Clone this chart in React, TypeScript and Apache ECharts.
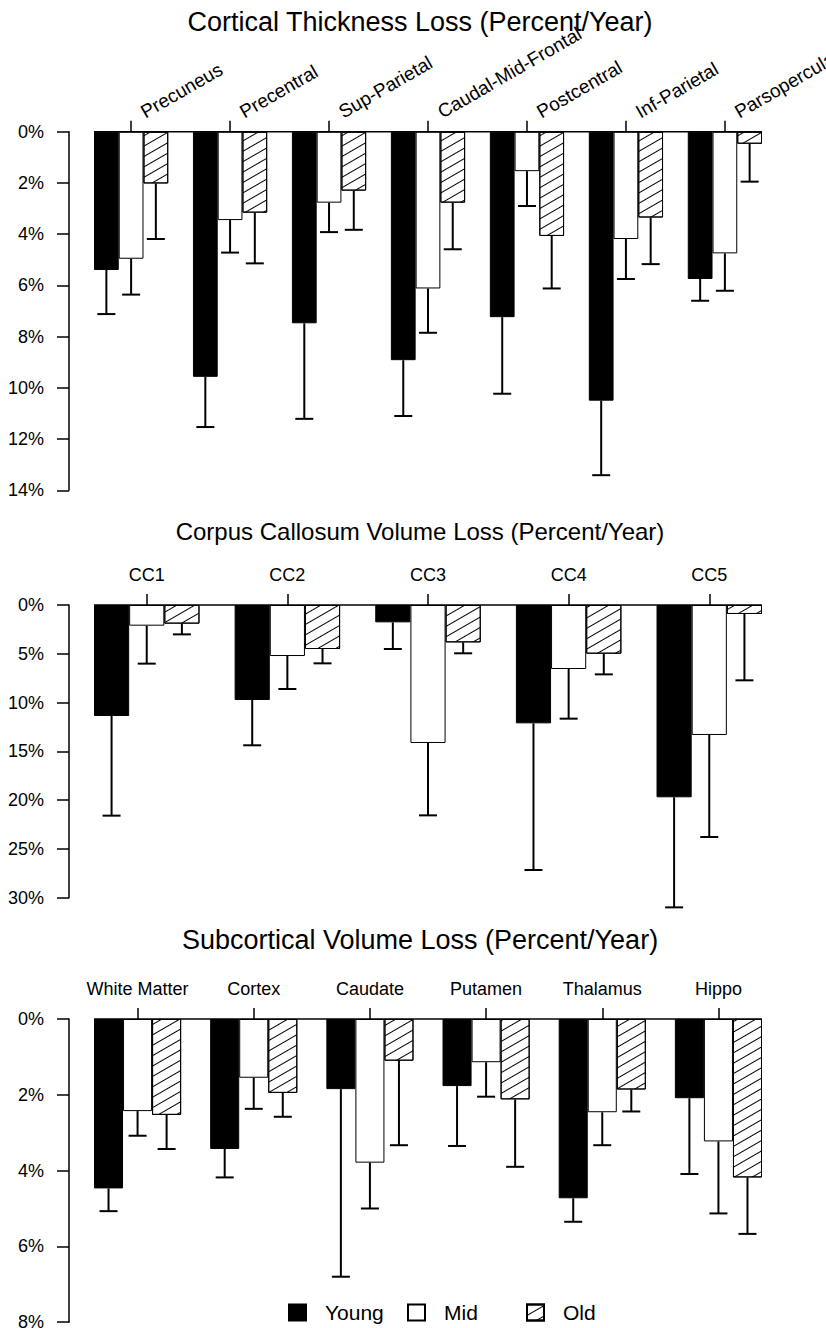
import React, { useEffect, useRef } from "react";
import * as echarts from "echarts";

// ---------- DATA ----------
const corticalCats = ["Precuneus", "Precentral", "Sup-Parietal", "Caudal-Mid-Frontal", "Postcentral", "Inf-Parietal", "Parsopercularis"];
const corticalYoung = [5.40, 9.57, 7.48, 8.92, 7.24, 10.50, 5.75];
const corticalYoungErr = [7.12, 11.53, 11.21, 11.10, 10.23, 13.41, 6.60];
const corticalMid = [4.96, 3.45, 2.77, 6.12, 1.54, 4.19, 4.75];
const corticalMidErr = [6.36, 4.72, 3.92, 7.85, 2.90, 5.75, 6.21];
const corticalOld = [2.02, 3.16, 2.30, 2.77, 4.07, 3.35, 0.47];
const corticalOldErr = [4.19, 5.14, 3.83, 4.59, 6.12, 5.17, 1.95];

const ccCats = ["CC1", "CC2", "CC3", "CC4", "CC5"];
const ccYoung = [11.38, 9.74, 1.78, 12.13, 19.71];
const ccYoungErr = [21.59, 14.38, 4.51, 27.16, 30.99];
const ccMid = [2.12, 5.23, 14.14, 6.56, 13.32];
const ccMidErr = [6.01, 8.61, 21.56, 11.65, 23.78];
const ccOld = [1.91, 4.51, 3.83, 4.99, 0.92];
const ccOldErr = [3.01, 5.98, 4.95, 7.11, 7.72];

const subCats = ["White Matter", "Cortex", "Caudate", "Putamen", "Thalamus", "Hippo"];
const subYoung = [4.47, 3.43, 1.85, 1.77, 4.73, 2.09];
const subYoungErr = [5.07, 4.18, 6.80, 3.35, 5.35, 4.09];
const subMid = [2.43, 1.55, 3.79, 1.14, 2.46, 3.23];
const subMidErr = [3.08, 2.37, 5.00, 2.05, 3.33, 5.13];
const subOld = [2.53, 1.95, 1.10, 2.12, 1.86, 4.18];
const subOldErr = [3.43, 2.58, 3.33, 3.90, 2.44, 5.67];

const titles = [
  "Cortical Thickness Loss (Percent/Year)",
  "Corpus Callosum Volume Loss (Percent/Year)",
  "Subcortical Volume Loss (Percent/Year)",
];
const yMax = [14, 30, 8];
const yInterval = [2, 5, 2];
const groupNames = ["Young", "Mid", "Old"];

const FONT = "'Liberation Sans', Arial, Helvetica, sans-serif";

const panels = [
  { cats: corticalCats, vals: [corticalYoung, corticalMid, corticalOld], errs: [corticalYoungErr, corticalMidErr, corticalOldErr] },
  { cats: ccCats, vals: [ccYoung, ccMid, ccOld], errs: [ccYoungErr, ccMidErr, ccOldErr] },
  { cats: subCats, vals: [subYoung, subMid, subOld], errs: [subYoungErr, subMidErr, subOldErr] },
];

// layout
const BAR_LEFT = 94;
const BAR_RIGHT = 762;
const Y_AXIS_X = 69;
const gridTops = [131.7, 605, 1019];
const gridHeights = [358.6, 292.7, 303.2];
const titleTops = [7, 516, 925];
const titleSizes = [27, 24, 27];

const hatch = {
  symbol: "rect",
  symbolSize: 1,
  color: "#000",
  dashArrayX: [1, 0],
  dashArrayY: [1, 8],
  rotation: -Math.PI / 6,
};

function buildOption() {
  const grids: any[] = [];
  const xAxes: any[] = [];
  const yAxes: any[] = [];
  const series: any[] = [];
  const titleArr: any[] = [];

  panels.forEach((p, pi) => {
    const n = p.cats.length;
    const units = n * 4 - 1;
    const unit = (BAR_RIGHT - BAR_LEFT) / units;
    const gLeft = BAR_LEFT - unit / 2;
    const gRight = 826 - (BAR_RIGHT + unit / 2);
    grids.push({
      left: gLeft,
      right: gRight,
      top: gridTops[pi],
      height: gridHeights[pi],
      containLabel: false,
      outerBoundsMode: "none",
    });

    titleArr.push({
      text: titles[pi],
      left: 420,
      top: titleTops[pi],
      textAlign: "center",
      padding: 0,
      textStyle: { fontSize: titleSizes[pi], fontWeight: "normal", color: "#000", fontFamily: FONT, lineHeight: 30 },
    });

    const rotated = pi === 0;
    xAxes.push({
      gridIndex: pi,
      type: "category",
      data: p.cats,
      position: "top",
      boundaryGap: true,
      axisLine: { show: false },
      axisTick: { show: true, alignWithLabel: true, length: 11, lineStyle: { color: "#000", width: 1.5 } },
      axisLabel: rotated
        ? { rotate: 30, margin: 12, padding: [0, 0, 0, 13], color: "#000", fontSize: 19, fontFamily: FONT, interval: 0, hideOverlap: false }
        : { margin: 20, color: "#000", fontSize: 18, fontFamily: FONT, interval: 0, lineHeight: 20 },
      splitLine: { show: false },
    });

    yAxes.push({
      gridIndex: pi,
      type: "value",
      inverse: true,
      min: 0,
      max: yMax[pi],
      interval: yInterval[pi],
      position: "left",
      offset: gLeft - Y_AXIS_X,
      axisLine: { show: true, lineStyle: { color: "#000", width: 1.5 } },
      axisTick: { show: true, length: 12, lineStyle: { color: "#000", width: 1.5 } },
      axisLabel: { formatter: "{value}%", color: "#000", fontSize: 18, fontFamily: FONT, margin: 25 },
      splitLine: { show: false },
    });

    groupNames.forEach((g, gi) => {
      const itemStyle: any =
        gi === 0
          ? { color: "#000", borderColor: "#000", borderWidth: 1 }
          : gi === 1
          ? { color: "#fff", borderColor: "#000", borderWidth: 1 }
          : { color: "#fff", borderColor: "#000", borderWidth: 1, decal: hatch };
      series.push({
        type: "bar",
        name: g,
        xAxisIndex: pi,
        yAxisIndex: pi,
        data: p.vals[gi],
        barGap: "0%",
        barCategoryGap: "25%",
        itemStyle,
        emphasis: { disabled: true },
      });
    });

    // error bars
    const errData: number[][] = [];
    p.vals.forEach((arr, gi) => {
      arr.forEach((v, ci) => errData.push([ci, gi, v, p.errs[gi][ci]]));
    });
    series.push({
      type: "custom",
      name: "err" + pi,
      xAxisIndex: pi,
      yAxisIndex: pi,
      data: errData,
      encode: { x: 0, y: [2, 3] },
      clip: false,
      z: 5,
      renderItem: (params: any, api: any) => {
        const cat = api.value(0);
        const k = api.value(1);
        const bw = api.size([1, 0])[0];
        const barW = (bw * 0.75) / 3;
        const cx = api.coord([cat, 0])[0] + (k - 1) * barW;
        const y1 = api.coord([cat, api.value(2)])[1];
        const y2 = api.coord([cat, api.value(3)])[1];
        return {
          type: "group",
          children: [
            { type: "line", shape: { x1: cx, y1, x2: cx, y2 }, style: { stroke: "#000", lineWidth: 2 } },
            { type: "line", shape: { x1: cx - 9, y1: y2, x2: cx + 9, y2 }, style: { stroke: "#000", lineWidth: 2 } },
          ],
        };
      },
    });

    // top baseline spanning bars
    series.push({
      type: "custom",
      name: "base" + pi,
      xAxisIndex: pi,
      yAxisIndex: pi,
      data: [[0, 0]],
      encode: { x: 0, y: 1 },
      clip: false,
      z: 6,
      renderItem: (params: any, api: any) => {
        const bw = api.size([1, 0])[0];
        const x0 = api.coord([0, 0])[0] - bw * 0.375;
        const x1 = api.coord([n - 1, 0])[0] + bw * 0.375;
        const y = api.coord([0, 0])[1];
        return { type: "line", shape: { x1: x0, y1: y, x2: x1, y2: y }, style: { stroke: "#000", lineWidth: 1.5 } };
      },
    });
  });

  const legendBase = {
    top: 1302,
    padding: 0,
    itemWidth: 17,
    itemHeight: 16,
    icon: "rect",
    selectedMode: false,
    orient: "horizontal",
    textStyle: { fontSize: 21, color: "#000", fontFamily: FONT, padding: [0, 0, 0, 14] },
  };
  const legends = [
    { ...legendBase, data: ["Young"], left: 288 },
    { ...legendBase, data: ["Mid"], left: 407 },
    { ...legendBase, data: ["Old"], left: 526 },
  ];

  return {
    animation: false,
    backgroundColor: "#fff",
    title: titleArr,
    legend: legends,
    grid: grids,
    xAxis: xAxes,
    yAxis: yAxes,
    series,
  };
}

export default function App() {
  const ref = useRef<HTMLDivElement>(null);
  useEffect(() => {
    if (!ref.current) return;
    const chart = echarts.init(ref.current, undefined, { renderer: "svg" });
    chart.setOption(buildOption() as any);
    return () => chart.dispose();
  }, []);
  return <div ref={ref} style={{ position: "absolute", left: 0, top: 0, width: 826, height: 1328 }} />;
}
